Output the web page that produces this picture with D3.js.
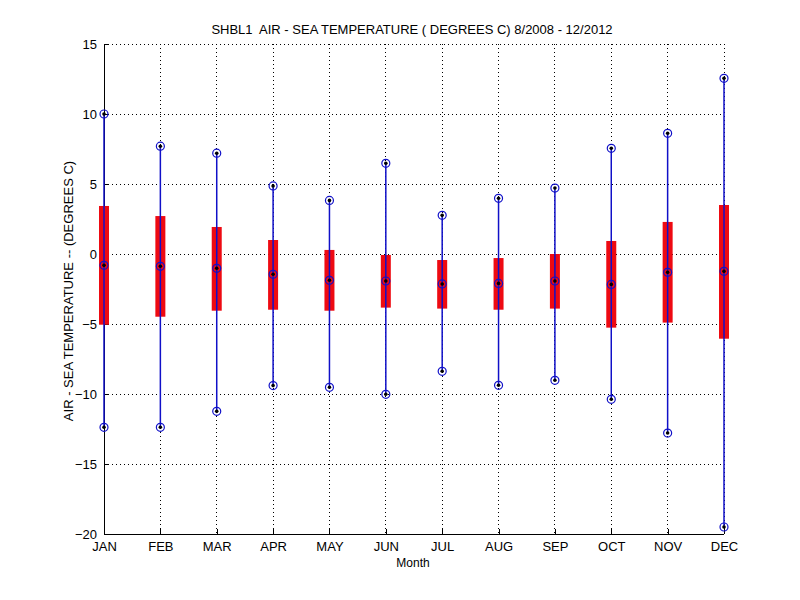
<!DOCTYPE html>
<html><head><meta charset="utf-8">
<script src="https://cdn.jsdelivr.net/npm/d3@7/dist/d3.min.js"></script>
<style>body{margin:0;background:#fff;} svg{display:block;} text{font-family:"Liberation Sans",Arial,sans-serif;}</style>
</head><body><svg id="c" width="800" height="600"></svg>
<script>
const months = ["JAN","FEB","MAR","APR","MAY","JUN","JUL","AUG","SEP","OCT","NOV","DEC"];
const maxVals = [10.0, 7.7, 7.2, 4.86, 3.83, 6.48, 2.76, 3.98, 4.71, 7.55, 8.62, 12.55];
const q3Vals = [3.43, 2.71, 1.93, 1.0, 0.29, -0.07, -0.43, -0.29, 0.0, 0.93, 2.29, 3.5];
const medVals = [-0.81, -0.88, -1.02, -1.45, -1.88, -1.93, -2.14, -2.1, -1.93, -2.17, -1.31, -1.24];
const q1Vals = [-5.05, -4.48, -4.05, -3.98, -4.05, -3.83, -3.9, -3.98, -3.9, -5.26, -4.9, -6.05];
const minVals = [-12.38, -12.38, -11.24, -9.4, -9.52, -10.02, -8.38, -9.38, -9.02, -10.38, -12.79, -19.5];
const yTicks = [-20, -15, -10, -5, 0, 5, 10, 15];

const svg = d3.select("#c");
const L = 104, R = 724, T = 44, B = 534;
const x = d3.scalePoint().domain(months).range([L, R]);
const y = d3.scaleLinear().domain([-20, 15]).range([B, T]);

// grid
const g = svg.append("g");
g.selectAll("line.hg").data(yTicks.filter(t => t > -20)).join("line")
  .attr("x1", L).attr("x2", R).attr("y1", d => y(d)).attr("y2", d => y(d))
  .attr("stroke", "#000").attr("stroke-width", 1).attr("stroke-dasharray", "1,3").attr("shape-rendering", "crispEdges");
g.selectAll("line.vg").data(months.slice(1)).join("line")
  .attr("x1", d => x(d)).attr("x2", d => x(d)).attr("y1", T).attr("y2", B)
  .attr("stroke", "#000").attr("stroke-width", 1).attr("stroke-dasharray", "1,3").attr("shape-rendering", "crispEdges");

// axes
const yAxis = d3.axisLeft(y).tickValues(yTicks).tickSize(-5).tickPadding(7).tickFormat(d3.format("d"));
const ya = svg.append("g").attr("transform", `translate(${L},0)`).call(yAxis);
const xAxis = d3.axisBottom(x).tickSize(-5).tickPadding(8);
const xa = svg.append("g").attr("transform", `translate(0,${B})`).call(xAxis);
[ya, xa].forEach(a => {
  a.select(".domain").attr("stroke", "#000").attr("stroke-width", 1).attr("shape-rendering", "crispEdges");
  a.selectAll(".tick line").attr("stroke", "#000").attr("shape-rendering", "crispEdges");
  a.selectAll("text").attr("font-size", 13).attr("fill", "#000").attr("font-family", "Liberation Sans, Arial, sans-serif");
});
ya.select(".domain").attr("d", `M0,${B}V${T}`);
xa.select(".domain").attr("d", `M${L},0H${R}`);

// data
const data = months.map((m, i) => ({m, max: maxVals[i], q3: q3Vals[i], med: medVals[i], q1: q1Vals[i], min: minVals[i]}));
const bw = 10;
svg.selectAll("rect.box").data(data).join("rect")
  .attr("x", d => x(d.m) - bw / 2).attr("width", bw)
  .attr("y", d => y(d.q3)).attr("height", d => y(d.q1) - y(d.q3))
  .attr("fill", "#ee0a12");
svg.selectAll("line.wh").data(data).join("line")
  .attr("x1", d => x(d.m)).attr("x2", d => x(d.m))
  .attr("y1", d => y(d.max)).attr("y2", d => y(d.min))
  .attr("stroke", "#1010c8").attr("stroke-width", 1.5);

const pts = [];
data.forEach(d => { pts.push({m: d.m, v: d.max}); pts.push({m: d.m, v: d.med}); pts.push({m: d.m, v: d.min}); });
svg.selectAll("circle.o").data(pts).join("circle")
  .attr("cx", d => x(d.m)).attr("cy", d => y(d.v)).attr("r", 4)
  .attr("fill", "none").attr("stroke", "#1010c8").attr("stroke-width", 1.2);
svg.selectAll("circle.dot").data(pts).join("circle")
  .attr("cx", d => x(d.m)).attr("cy", d => y(d.v)).attr("r", 1.8)
  .attr("fill", "#000");

// titles
svg.append("text").attr("x", 412).attr("y", 34).attr("text-anchor", "middle").attr("font-size", 13)
  .attr("xml:space", "preserve")
  .text("SHBL1  AIR - SEA TEMPERATURE ( DEGREES C) 8/2008 - 12/2012");
svg.append("text").attr("x", 413).attr("y", 567).attr("text-anchor", "middle").attr("font-size", 12).text("Month");
svg.append("text").attr("transform", "translate(73,291) rotate(-90)").attr("text-anchor", "middle").attr("font-size", 13)
  .text("AIR - SEA TEMPERATURE -- (DEGREES C)");
</script></body></html>
